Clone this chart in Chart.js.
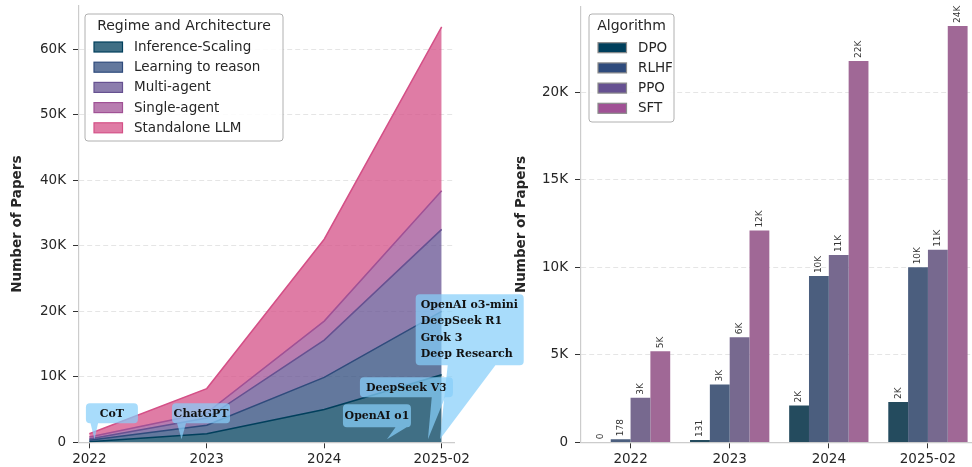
<!DOCTYPE html>
<html>
<head>
<meta charset="utf-8">
<script src="https://cdn.jsdelivr.net/npm/chart.js@4.4.1/dist/chart.umd.min.js"></script>
<style>
  html, body { margin: 0; padding: 0; background: #fff; overflow: hidden; width: 972px; height: 467px; }
  #leftChart { position: absolute; left: 0; top: 0; z-index: 2; }
  #rightChart { position: absolute; left: 500px; top: 0; z-index: 1; }
</style>
</head>
<body>
<canvas id="rightChart" width="480" height="467"></canvas>
<canvas id="leftChart" width="530" height="467"></canvas>
<script>
// DATA
const periods = ['2022', '2023', '2024', '2025-02'];

// papers per regime / architecture (stacked areas)
const regimes = ['Inference-Scaling', 'Learning to reason', 'Multi-agent', 'Single-agent', 'Standalone LLM'];
const inferenceScaling = [100, 1300, 5000, 10300];
const learningToReason = [200, 1300, 4900, 9700];
const multiAgent = [200, 1100, 5700, 12500];
const singleAgent = [300, 800, 2900, 5900];
const standaloneLLM = [500, 3700, 12500, 25000];

// papers per algorithm (grouped bars)
const algorithms = ['DPO', 'RLHF', 'PPO', 'SFT'];
const dpo = [0, 131, 2100, 2300];
const rlhf = [178, 3300, 9500, 10000];
const ppo = [2550, 6000, 10700, 11000];
const sft = [5200, 12100, 21800, 23800];

const leftTicks = [0, 10000, 20000, 30000, 40000, 50000, 60000];
const rightTicks = [0, 5000, 10000, 15000, 20000];

// milestones, "at" is the position along the period axis (0 = 2022 ... 3 = 2025-02)
const milestoneLabels = [['CoT'], ['ChatGPT'], ['OpenAI o1'], ['DeepSeek V3'],
  ['OpenAI o3-mini', 'DeepSeek R1', 'Grok 3', 'Deep Research']];
const milestoneAt = [0.044, 0.785, 2.534, 2.883, 2.985];
// ==================

const regimeColors = ['#003f5c', '#2f4b7c', '#665191', '#a05195', '#d45087'];
const algoColors = ['#003f5c', '#2f4b7c', '#665191', '#a05195'];
const algoBarColors = ['#244b5e', '#4b5e7e', '#77698f', '#a06896'];
const textColor = '#262626';
const gridColor = 'rgba(0,0,0,0.13)';
const spineColor = '#cccccc';

// box placement relative to the arrow tip (px)
const calloutLayout = [
  {dx: 17.4, dy: -26, w: 52, h: 20, base: [-4.5, 4]},
  {dx: 19.5, dy: -26, w: 58, h: 20, base: [-5, 5]},
  {dx: -10, dy: -23.5, w: 68, h: 23, base: [10, 23]},
  {dx: -21.5, dy: -52, w: 93, h: 20, base: [4, 18]},
  {dx: 29.8, dy: -109.5, w: 108, h: 71, base: [8, 57]}
];

Chart.defaults.font.family = '"DejaVu Sans", sans-serif';
Chart.defaults.color = textColor;
Chart.defaults.animation = false;

function rgba(hex, a) {
  const n = parseInt(hex.slice(1), 16);
  return `rgba(${(n >> 16) & 255}, ${(n >> 8) & 255}, ${n & 255}, ${a})`;
}

function kFormat(v) {
  return v === 0 ? '0' : (v / 1000) + 'K';
}

function barLabel(v) {
  return v < 1000 ? String(v) : Math.round(v / 1000) + 'K';
}

function drawLegend(ctx, x, y, w, h, title, labels, fills, strokes, swatchY0) {
  ctx.save();
  ctx.beginPath();
  ctx.roundRect(x, y, w, h, 3);
  ctx.fillStyle = 'rgba(255,255,255,0.85)';
  ctx.fill();
  ctx.strokeStyle = '#b0b0b0';
  ctx.lineWidth = 1;
  ctx.stroke();

  ctx.fillStyle = textColor;
  ctx.textBaseline = 'middle';
  ctx.textAlign = 'center';
  ctx.font = '14px "DejaVu Sans"';
  ctx.fillText(title, x + w / 2, y + 12.5);

  ctx.textAlign = 'left';
  ctx.font = '13.5px "DejaVu Sans"';
  labels.forEach((lab, i) => {
    const cy = y + swatchY0 + i * 20.2;
    ctx.fillStyle = fills[i];
    ctx.fillRect(x + 9, cy - 5, 28.5, 10);
    ctx.strokeStyle = strokes[i];
    ctx.lineWidth = 1.2;
    ctx.strokeRect(x + 9, cy - 5, 28.5, 10);
    ctx.fillStyle = textColor;
    ctx.fillText(lab, x + 49, cy + 0.5);
  });
  ctx.restore();
}

const calloutPlugin = {
  id: 'callouts',
  afterDatasetsDraw(chart) {
    const ctx = chart.ctx;
    const xs = chart.scales.x, ys = chart.scales.y;
    ctx.save();
    milestoneLabels.forEach((lines, i) => {
      const lay = calloutLayout[i];
      const tipX = xs.getPixelForValue(milestoneAt[i]);
      const tipY = ys.getPixelForValue(0) - 3;
      const left = tipX + lay.dx - lay.w / 2;
      const top = tipY + lay.dy - lay.h / 2;
      const bottom = top + lay.h;

      ctx.beginPath();
      ctx.roundRect(left, top, lay.w, lay.h, 4);
      ctx.moveTo(tipX + lay.base[1], bottom - 2);
      ctx.lineTo(tipX, tipY);
      ctx.lineTo(tipX + lay.base[0], bottom - 2);
      ctx.closePath();
      ctx.fillStyle = 'rgba(135, 206, 250, 0.72)';
      ctx.fill('nonzero');

      ctx.fillStyle = '#111';
      ctx.font = 'bold 11px "DejaVu Serif"';
      ctx.textBaseline = 'middle';
      const cy = top + lay.h / 2;
      if (lines.length === 1) {
        ctx.textAlign = 'center';
        ctx.fillText(lines[0], left + lay.w / 2, cy + 0.5);
      } else {
        ctx.textAlign = 'left';
        lines.forEach((ln, k) => {
          ctx.fillText(ln, left + 5, cy + (k - (lines.length - 1) / 2) * 16.4);
        });
      }
    });
    ctx.restore();
  },
  afterDraw(chart) {
    const a = chart.chartArea;
    drawLegend(chart.ctx, a.left + 6, a.top + 8, 198, 127, 'Regime and Architecture', regimes,
      regimeColors.map(c => rgba(c, 0.75)), regimeColors, 33);
  }
};

const barLabelPlugin = {
  id: 'barLabels',
  afterDatasetsDraw(chart) {
    const ctx = chart.ctx;
    ctx.save();
    ctx.fillStyle = '#333';
    ctx.font = '9px "DejaVu Sans"';
    ctx.textAlign = 'left';
    ctx.textBaseline = 'middle';
    chart.data.datasets.forEach((ds, di) => {
      chart.getDatasetMeta(di).data.forEach((bar, i) => {
        ctx.save();
        ctx.translate(bar.x, bar.y - 3);
        ctx.rotate(-Math.PI / 2);
        ctx.fillText(barLabel(ds.data[i]), 0, 0);
        ctx.restore();
      });
    });
    ctx.restore();
  },
  afterDraw(chart) {
    const a = chart.chartArea;
    drawLegend(chart.ctx, a.left + 8, a.top + 7.3, 85, 108, 'Algorithm', algorithms,
      algoColors, algoColors.map(() => '#8c8c8c'), 33.7);
  }
};

function yScale(ticks, max, width, titlePad) {
  return {
    min: 0,
    max: max,
    afterFit: s => { s.width = width; s.paddingTop = 0; s.paddingBottom = 0; },
    afterBuildTicks: s => { s.ticks = ticks.map(v => ({value: v})); },
    ticks: {callback: kFormat, font: {size: 13.5}, color: textColor, padding: 7},
    grid: {color: gridColor, lineWidth: 0.8, tickColor: '#333', tickWidth: 1, tickLength: 6},
    border: {color: spineColor, width: 1.2, dash: [5, 3]},
    title: {display: true, text: 'Number of Papers', color: textColor,
      font: {size: 13.5, weight: 'bold'}, padding: {top: titlePad, bottom: 0}}
  };
}

const regimeSeries = [inferenceScaling, learningToReason, multiAgent, singleAgent, standaloneLLM];

new Chart(document.getElementById('leftChart'), {
  type: 'line',
  data: {
    datasets: regimeSeries.map((vals, i) => ({
      label: regimes[i],
      data: vals.map((v, k) => ({x: k, y: v})),
      borderColor: regimeColors[i],
      backgroundColor: rgba(regimeColors[i], 0.75),
      borderWidth: 1.5,
      pointRadius: 0,
      tension: 0,
      fill: i === 0 ? 'origin' : '-1'
    }))
  },
  options: {
    responsive: false,
    layout: {padding: {top: 6, right: 76, left: 0, bottom: 0}},
    plugins: {legend: {display: false}, tooltip: {enabled: false}},
    scales: {
      x: {
        type: 'linear',
        min: -0.088,
        max: 3.105,
        afterFit: s => { s.height = 24.7; s.paddingLeft = 0; s.paddingRight = 0; },
        afterBuildTicks: s => { s.ticks = periods.map((p, i) => ({value: i})); },
        ticks: {callback: v => periods[v], font: {size: 13.5}, color: textColor, padding: 3.5},
        grid: {drawOnChartArea: false, tickColor: '#333', tickWidth: 1, tickLength: 6},
        border: {color: spineColor, width: 1.2}
      },
      y: Object.assign(yScale(leftTicks, 66600, 79, 9), {stacked: true})
    }
  },
  plugins: [calloutPlugin]
});

const algoSeries = [dpo, rlhf, ppo, sft];

new Chart(document.getElementById('rightChart'), {
  type: 'bar',
  data: {
    labels: periods,
    datasets: algoSeries.map((vals, i) => ({
      label: algorithms[i],
      data: vals,
      backgroundColor: algoBarColors[i],
      borderWidth: 0,
      categoryPercentage: 0.8,
      barPercentage: 1.0
    }))
  },
  options: {
    responsive: false,
    layout: {padding: {top: 6.7, right: 2.5, left: 0, bottom: 0}},
    plugins: {legend: {display: false}, tooltip: {enabled: false}},
    scales: {
      x: {
        afterFit: s => { s.height = 24.7; s.paddingLeft = 0; s.paddingRight = 0; },
        ticks: {font: {size: 13.5}, color: textColor, padding: 3.5},
        grid: {offset: false, drawOnChartArea: false, tickColor: '#333', tickWidth: 1, tickLength: 6},
        border: {color: spineColor, width: 1.2}
      },
      y: yScale(rightTicks, 24900, 81, 12.9)
    }
  },
  plugins: [barLabelPlugin]
});
</script>
</body>
</html>
